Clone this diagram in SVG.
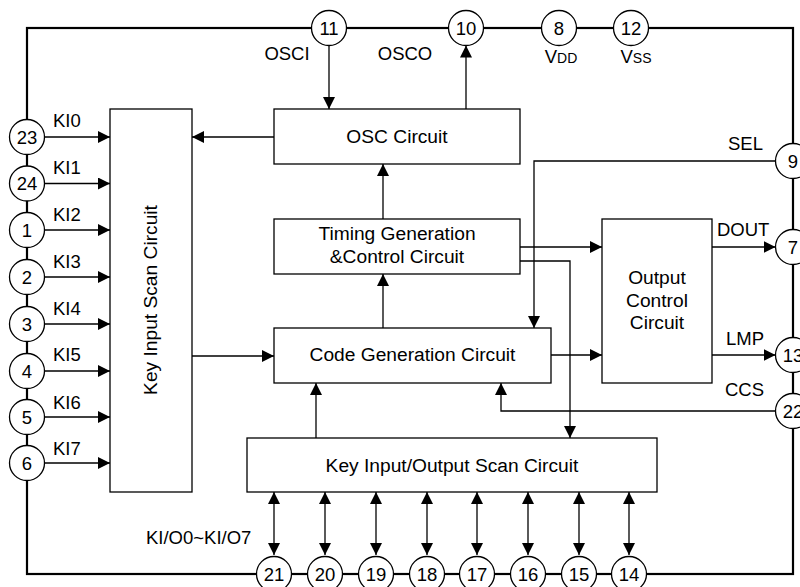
<svg xmlns="http://www.w3.org/2000/svg" width="800" height="587" viewBox="0 0 800 587">
<style>
text{font-family:"Liberation Sans",Arial,sans-serif;font-size:18.5px;fill:#000}
.box{fill:#fff;stroke:#000;stroke-width:1.3}
.bt{font-size:19.2px;text-anchor:middle}
.pin circle{fill:#fff;stroke:#000;stroke-width:1.3}
.pin text{text-anchor:middle}
.c{text-anchor:middle}
.ln{fill:none;stroke:#000;stroke-width:1.3}
.frame{fill:none;stroke:#000;stroke-width:2.2}
.small{font-size:14px}
</style>
<defs>
<marker id="arr" viewBox="0 0 12 12" refX="12" refY="6" markerWidth="12" markerHeight="12" markerUnits="userSpaceOnUse" orient="auto-start-reverse">
<path d="M0,0 L12,6 L0,12 z" fill="#000"/>
</marker>
</defs>
<rect class="frame" x="27" y="28" width="766" height="546"/>

<g id="connectors">
<line class="ln" x1="329" y1="45.5" x2="329" y2="109" marker-end="url(#arr)"/>
<line class="ln" x1="466" y1="109" x2="466" y2="45.5" marker-end="url(#arr)"/>
<line class="ln" x1="274" y1="137" x2="192" y2="137" marker-end="url(#arr)"/>
<line class="ln" x1="383" y1="219" x2="383" y2="164" marker-end="url(#arr)"/>
<line class="ln" x1="383" y1="328" x2="383" y2="274" marker-end="url(#arr)"/>
<line class="ln" x1="192" y1="356" x2="274" y2="356" marker-end="url(#arr)"/>
<line class="ln" x1="316" y1="438" x2="316" y2="383" marker-end="url(#arr)"/>
<polyline class="ln" points="775.5,411 501,411 501,383" marker-end="url(#arr)"/>
<polyline class="ln" points="775.5,161 534,161 534,328" marker-end="url(#arr)"/>
<line class="ln" x1="520" y1="247" x2="602" y2="247" marker-end="url(#arr)"/>
<polyline class="ln" points="520,261 570,261 570,438" marker-end="url(#arr)"/>
<line class="ln" x1="551" y1="355" x2="602" y2="355" marker-end="url(#arr)"/>
<line class="ln" x1="712" y1="247" x2="775.5" y2="247" marker-end="url(#arr)"/>
<line class="ln" x1="712" y1="355" x2="775.5" y2="355" marker-end="url(#arr)"/>
<line class="ln" x1="44.5" y1="137" x2="110" y2="137" marker-end="url(#arr)"/>
<line class="ln" x1="44.5" y1="183.5" x2="110" y2="183.5" marker-end="url(#arr)"/>
<line class="ln" x1="44.5" y1="230" x2="110" y2="230" marker-end="url(#arr)"/>
<line class="ln" x1="44.5" y1="277" x2="110" y2="277" marker-end="url(#arr)"/>
<line class="ln" x1="44.5" y1="324" x2="110" y2="324" marker-end="url(#arr)"/>
<line class="ln" x1="44.5" y1="371" x2="110" y2="371" marker-end="url(#arr)"/>
<line class="ln" x1="44.5" y1="417" x2="110" y2="417" marker-end="url(#arr)"/>
<line class="ln" x1="44.5" y1="463" x2="110" y2="463" marker-end="url(#arr)"/>
<line class="ln" x1="274" y1="492" x2="274" y2="555" marker-start="url(#arr)" marker-end="url(#arr)"/>
<line class="ln" x1="325" y1="492" x2="325" y2="555" marker-start="url(#arr)" marker-end="url(#arr)"/>
<line class="ln" x1="376" y1="492" x2="376" y2="555" marker-start="url(#arr)" marker-end="url(#arr)"/>
<line class="ln" x1="427" y1="492" x2="427" y2="555" marker-start="url(#arr)" marker-end="url(#arr)"/>
<line class="ln" x1="477" y1="492" x2="477" y2="555" marker-start="url(#arr)" marker-end="url(#arr)"/>
<line class="ln" x1="528" y1="492" x2="528" y2="555" marker-start="url(#arr)" marker-end="url(#arr)"/>
<line class="ln" x1="579" y1="492" x2="579" y2="555" marker-start="url(#arr)" marker-end="url(#arr)"/>
<line class="ln" x1="629" y1="492" x2="629" y2="555" marker-start="url(#arr)" marker-end="url(#arr)"/>
</g>

<g id="keyinscan"><rect class="box" x="110" y="109" width="82" height="383"/><text class="bt" transform="translate(157,300) rotate(-90)">Key Input Scan Circuit</text></g>
<g id="osc"><rect class="box" x="274" y="109" width="246" height="55"/><text class="bt" x="397" y="143">OSC Circuit</text></g>
<g id="timing"><rect class="box" x="274" y="219" width="246" height="55"/><text class="bt" x="397" y="240">Timing Generation</text><text class="bt" x="397" y="263">&amp;Control Circuit</text></g>
<g id="codegen"><rect class="box" x="274" y="328" width="277" height="55"/><text class="bt" x="412.5" y="361">Code Generation Circuit</text></g>
<g id="outctrl"><rect class="box" x="602" y="219" width="110" height="164"/><text class="bt" x="657" y="284">Output</text><text class="bt" x="657" y="307">Control</text><text class="bt" x="657" y="329">Circuit</text></g>
<g id="keyioscan"><rect class="box" x="247" y="438" width="410" height="54"/><text class="bt" x="452" y="472">Key Input/Output Scan Circuit</text></g>

<g id="labels">
<text class="c" x="287" y="60">OSCI</text>
<text class="c" x="405" y="60">OSCO</text>
<text class="c" x="561" y="63">V<tspan class="small">DD</tspan></text>
<text class="c" x="636" y="63">V<tspan class="small">SS</tspan></text>
<text x="728" y="150">SEL</text>
<text x="717" y="236">DOUT</text>
<text x="726" y="345">LMP</text>
<text x="725" y="396">CCS</text>
<text x="53" y="127">KI0</text>
<text x="53" y="174">KI1</text>
<text x="53" y="221">KI2</text>
<text x="53" y="268">KI3</text>
<text x="53" y="315">KI4</text>
<text x="53" y="361">KI5</text>
<text x="53" y="409">KI6</text>
<text x="53" y="455">KI7</text>
<text x="146" y="544">KI/O0~KI/O7</text>
</g>

<g id="pin11" class="pin"><circle cx="329" cy="28" r="17.5"/><text x="329" y="34.5">11</text></g>
<g id="pin10" class="pin"><circle cx="466" cy="28" r="17.5"/><text x="466" y="34.5">10</text></g>
<g id="pin8" class="pin"><circle cx="559" cy="28" r="17.5"/><text x="559" y="34.5">8</text></g>
<g id="pin12" class="pin"><circle cx="631" cy="28" r="17.5"/><text x="631" y="34.5">12</text></g>
<g id="pin9" class="pin"><circle cx="793" cy="161" r="17.5"/><text x="793" y="167.5">9</text></g>
<g id="pin7" class="pin"><circle cx="793" cy="247" r="17.5"/><text x="793" y="253.5">7</text></g>
<g id="pin13" class="pin"><circle cx="793" cy="355" r="17.5"/><text x="793" y="361.5">13</text></g>
<g id="pin22" class="pin"><circle cx="793" cy="411" r="17.5"/><text x="793" y="417.5">22</text></g>
<g id="pin23" class="pin"><circle cx="27" cy="137" r="17.5"/><text x="27" y="143.5">23</text></g>
<g id="pin24" class="pin"><circle cx="27" cy="183.5" r="17.5"/><text x="27" y="190">24</text></g>
<g id="pin1" class="pin"><circle cx="27" cy="230" r="17.5"/><text x="27" y="236.5">1</text></g>
<g id="pin2" class="pin"><circle cx="27" cy="277" r="17.5"/><text x="27" y="283.5">2</text></g>
<g id="pin3" class="pin"><circle cx="27" cy="324" r="17.5"/><text x="27" y="330.5">3</text></g>
<g id="pin4" class="pin"><circle cx="27" cy="371" r="17.5"/><text x="27" y="377.5">4</text></g>
<g id="pin5" class="pin"><circle cx="27" cy="417" r="17.5"/><text x="27" y="423.5">5</text></g>
<g id="pin6" class="pin"><circle cx="27" cy="463" r="17.5"/><text x="27" y="469.5">6</text></g>
<g id="pin21" class="pin"><circle cx="274" cy="574" r="17.5"/><text x="274" y="580.5">21</text></g>
<g id="pin20" class="pin"><circle cx="325" cy="574" r="17.5"/><text x="325" y="580.5">20</text></g>
<g id="pin19" class="pin"><circle cx="376" cy="574" r="17.5"/><text x="376" y="580.5">19</text></g>
<g id="pin18" class="pin"><circle cx="427" cy="574" r="17.5"/><text x="427" y="580.5">18</text></g>
<g id="pin17" class="pin"><circle cx="477" cy="574" r="17.5"/><text x="477" y="580.5">17</text></g>
<g id="pin16" class="pin"><circle cx="528" cy="574" r="17.5"/><text x="528" y="580.5">16</text></g>
<g id="pin15" class="pin"><circle cx="579" cy="574" r="17.5"/><text x="579" y="580.5">15</text></g>
<g id="pin14" class="pin"><circle cx="629" cy="574" r="17.5"/><text x="629" y="580.5">14</text></g>
</svg>
